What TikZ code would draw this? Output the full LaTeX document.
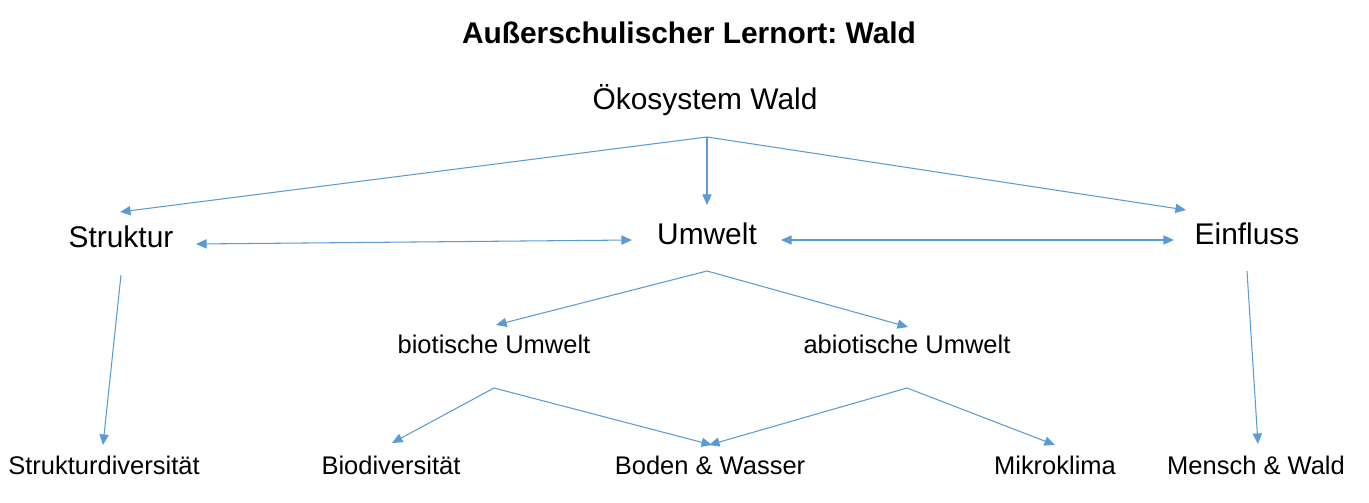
\documentclass[tikz,border=0pt]{standalone}
\usepackage{fontspec}
\setmainfont{Liberation Sans}
\usetikzlibrary{arrows.meta}
\definecolor{lnk}{HTML}{5B9BD5}
\frenchspacing
\begin{document}
\begin{tikzpicture}[x=0.01cm,y=-0.01cm,
  big/.style={anchor=base,inner sep=0pt,font=\fontsize{8.5pt}{10pt}\selectfont},
  small/.style={anchor=base,inner sep=0pt,font=\fontsize{7.25pt}{9pt}\selectfont},
  ttl/.style={anchor=base,inner sep=0pt,font=\fontsize{8.5pt}{10pt}\selectfont\bfseries},
  link/.style={draw=lnk,line width=0.3pt,-{Triangle[length=3pt,width=2.6pt]}},
  dlink/.style={draw=lnk,line width=0.3pt,{Triangle[length=3pt,width=2.6pt]}-{Triangle[length=3pt,width=2.6pt]}}]
\useasboundingbox (0,0) rectangle (1369,503);
\node[ttl] (title) at (689,44) {Außerschulischer Lernort: Wald};
\node[big] (oko) at (705,110) {Ökosystem Wald};
\node[big] (str) at (121,247) {Struktur};
\node[big] (umw) at (707,244) {Umwelt};
\node[big] (ein) at (1247,244) {Einfluss};
\node[small] (bio) at (494,353) {biotische Umwelt};
\node[small] (abio) at (907,353) {abiotische Umwelt};
\node[small] (sdiv) at (104,474) {Strukturdiversität};
\node[small] (bdiv) at (391,474) {Biodiversität};
\node[small] (bw) at (710,474) {Boden \& Wasser};
\node[small] (mk) at (1055,474) {Mikroklima};
\node[small] (mw) at (1256,474) {Mensch \& Wald};
% connector end points
\coordinate (okoS) at (707,137);
\coordinate (strN) at (120,212);
\coordinate (umwN) at (707,205);
\coordinate (einN) at (1186,210);
\coordinate (strE) at (196,244);
\coordinate (umwW) at (632,240);
\coordinate (umwE) at (781,240);
\coordinate (einW) at (1174,240);
\coordinate (umwS) at (707,271);
\coordinate (bioN) at (496,325);
\coordinate (abioN) at (908,327);
\coordinate (strS) at (121,275);
\coordinate (sdivN) at (103,445);
\coordinate (einS) at (1247,271);
\coordinate (mwN) at (1258,444);
\coordinate (bioS) at (494,388);
\coordinate (bdivN) at (392,443);
\coordinate (bwNa) at (712,445);
\coordinate (abioS) at (907,388);
\coordinate (bwNb) at (709,445);
\coordinate (mkN) at (1055,445);
\draw[link] (okoS) -- (strN);
\draw[link] (okoS) -- (umwN);
\draw[link] (okoS) -- (einN);
\draw[dlink] (strE) -- (umwW);
\draw[dlink] (umwE) -- (einW);
\draw[link] (umwS) -- (bioN);
\draw[link] (umwS) -- (abioN);
\draw[link] (strS) -- (sdivN);
\draw[link] (einS) -- (mwN);
\draw[link] (bioS) -- (bdivN);
\draw[link] (bioS) -- (bwNa);
\draw[link] (abioS) -- (bwNb);
\draw[link] (abioS) -- (mkN);
\end{tikzpicture}
\end{document}
